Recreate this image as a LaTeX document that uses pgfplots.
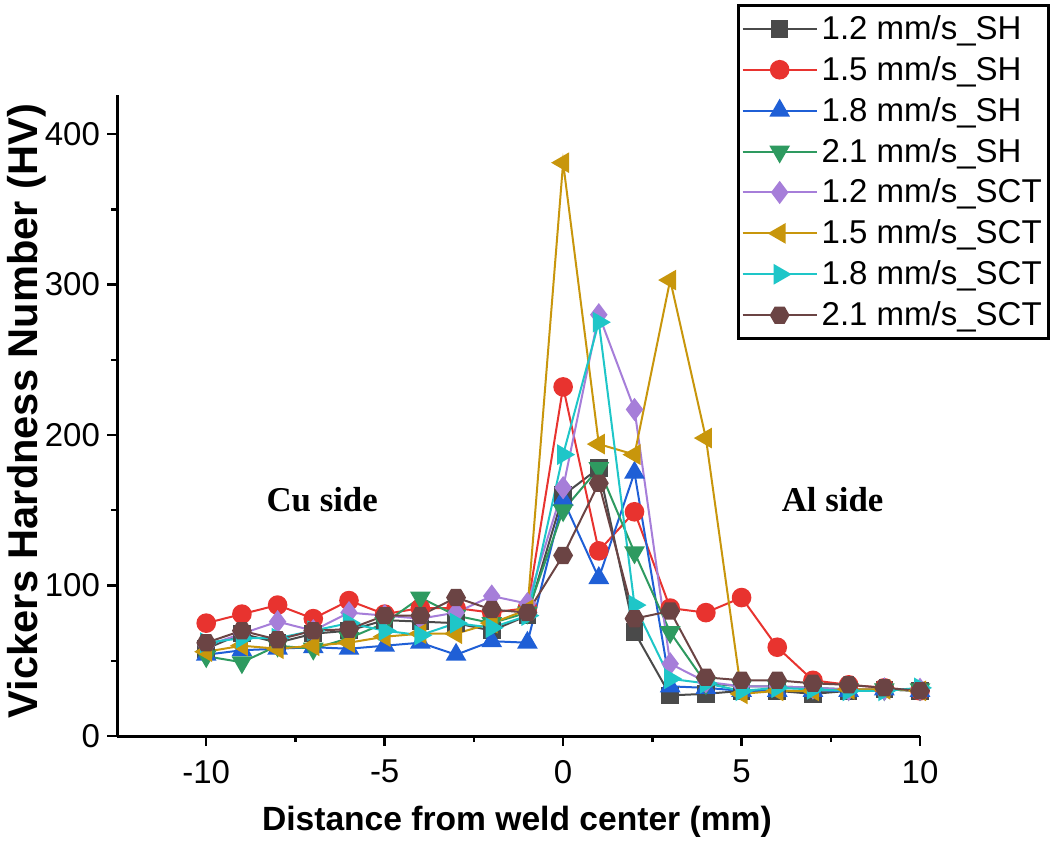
\documentclass[border=0pt]{standalone}
\usepackage{fontspec}
\setmainfont{Liberation Sans}
\newfontfamily\timesfont{Liberation Serif}
\usepackage{pgfplots}
\usepackage{pgfplotstable}
\pgfplotsset{compat=1.18}

\definecolor{cGray}{HTML}{4A4A4A}
\definecolor{cRed}{HTML}{E8332F}
\definecolor{cBlue}{HTML}{1F5FD6}
\definecolor{cGreen}{HTML}{2E9A60}
\definecolor{cPurple}{HTML}{A67ED9}
\definecolor{cGold}{HTML}{C8960C}
\definecolor{cCyan}{HTML}{1EC6C8}
\definecolor{cBrown}{HTML}{6B4444}

% hexagon marker (Origin style)
\pgfdeclareplotmark{hexagon*}{%
  \pgfpathmoveto{\pgfpointpolar{0}{\pgfplotmarksize}}%
  \pgfpathlineto{\pgfpointpolar{60}{\pgfplotmarksize}}%
  \pgfpathlineto{\pgfpointpolar{120}{\pgfplotmarksize}}%
  \pgfpathlineto{\pgfpointpolar{180}{\pgfplotmarksize}}%
  \pgfpathlineto{\pgfpointpolar{240}{\pgfplotmarksize}}%
  \pgfpathlineto{\pgfpointpolar{300}{\pgfplotmarksize}}%
  \pgfpathclose
  \pgfusepathqfillstroke}

% x, then SH 1.2/1.5/1.8/2.1, then SCT 1.2/1.5/1.8/2.1
\pgfplotstableread{
x   a    b    c    d    e    f    g    h
-10 58   75   54   53   60   56   62   62
-9  68   81   57   49   68   60   65   70
-8  62   87   58   60   76   58   65   64
-7  68   78   59   58   70   60   70   70
-6  70   90   58   65   82   62   75   71
-5  77   81   60   75   80   66   70   80
-4  76   85   62   92   78   68   67   80
-3  75   85   54   80   82   68   75   92
-2  70   82   63   75   93   75   72   84
-1  80   85   62   82   88   84   80   82
0   160  232  157  150  165  381  187  120
1   178  123  105  178  280  194  275  168
2   69   149  175  122  217  187  87   78
3   27   85   33   69   48   303  38   83
4   28   82   32   35   36   198  35   39
5   30   92   30   33   33   28   30   37
6   30   59   30   33   33   30   32   37
7   28   37   30   32   32   30   31   35
8   30   34   30   31   31   31   30   34
9   31   32   31   31   31   31   30   32
10  30   30   30   31   31   30   32   30
}\hv

\begin{document}
\begin{tikzpicture}
\begin{axis}[
    scale only axis,
    width=401.5pt, height=320.5pt,
    xmin=-12.5, xmax=10,
    ymin=0, ymax=426,
    axis lines=left,
    axis line style={-, line width=1.5pt},
    xtick={-10,-5,0,5,10},
    xticklabels={-10,-5,0,5,10},
    ytick={0,100,200,300,400},
    yticklabels={0,100,200,300,400},
    minor xtick={-7.5,-2.5,2.5,7.5},
    minor ytick={50,150,250,350},
    tick align=outside,
    major tick length=5pt,
    minor tick length=3pt,
    tick style={line width=1.2pt, black},
    tick label style={font=\fontsize{16.5}{19}\selectfont},
    xticklabel style={yshift=-3.5pt},
    xlabel={Distance from weld center (mm)},
    ylabel={Vickers Hardness Number (HV)},
    every axis x label/.style={at={(rel axis cs:0.498,-0.134)}, anchor=center,
        font=\fontsize{16.8}{20}\selectfont\bfseries},
    every axis y label/.style={at={(rel axis cs:-0.112,0.507)}, anchor=center,
        rotate=90, font=\fontsize{20.8}{24}\selectfont\bfseries},
    legend style={at={(1.162,1.142)}, anchor=north east, draw=black,
        line width=1.4pt, font=\fontsize{16.5}{19}\selectfont,
        row sep=3pt, inner xsep=1.5pt, inner ysep=3pt},
    legend cell align=left,
    legend image code/.code={\draw[mark repeat=2,mark phase=2]
        plot coordinates {(0cm,0cm) (0.65cm,0cm) (1.3cm,0cm)};},
    every axis plot/.append style={line width=1pt, mark size=4.4pt},
    clip=false,
]
\addplot[color=cGray, mark=square*, mark size=3.9pt, mark options={fill=cGray}] table[x=x, y=a] {\hv};
\addplot[color=cRed, mark=*, mark options={fill=cRed}] table[x=x, y=b] {\hv};
\addplot[color=cBlue, mark=triangle*, mark size=5pt, mark options={fill=cBlue}] table[x=x, y=c] {\hv};
\addplot[color=cGreen, mark=triangle*, mark size=5pt, mark options={fill=cGreen, rotate=180}] table[x=x, y=d] {\hv};
\addplot[color=cPurple, mark=diamond*, mark size=5pt, mark options={fill=cPurple}] table[x=x, y=e] {\hv};
\addplot[color=cGold, mark=triangle*, mark size=5pt, mark options={fill=cGold, rotate=90}] table[x=x, y=f] {\hv};
\addplot[color=cCyan, mark=triangle*, mark size=5pt, mark options={fill=cCyan, rotate=-90}] table[x=x, y=g] {\hv};
\addplot[color=cBrown, mark=hexagon*, mark options={fill=cBrown}] table[x=x, y=h] {\hv};
\legend{1.2 mm/s\_SH, 1.5 mm/s\_SH, 1.8 mm/s\_SH, 2.1 mm/s\_SH,
        1.2 mm/s\_SCT, 1.5 mm/s\_SCT, 1.8 mm/s\_SCT, 2.1 mm/s\_SCT}
\node[font=\fontsize{17.4}{20}\timesfont\bfseries] at (axis cs:-6.75,157) {Cu side};
\node[font=\fontsize{17.4}{20}\timesfont\bfseries] at (axis cs:7.55,157) {Al side};
% frame of the whole figure
\path (rel axis cs:-0.1457,-0.1622) rectangle (rel axis cs:1.1706,1.1482);
\end{axis}
\end{tikzpicture}
\end{document}
